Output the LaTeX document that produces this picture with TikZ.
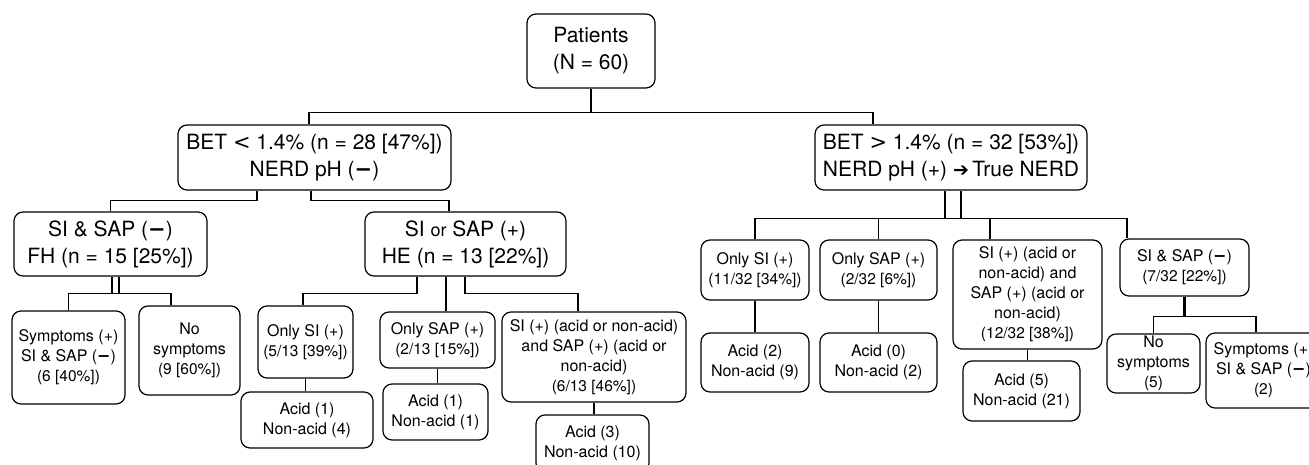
\documentclass[tikz,border=0pt]{standalone}
\usepackage{fontspec}
\setmainfont{TeX Gyre Heros}
\newfontfamily\glyphfont{DejaVu Sans}
\usetikzlibrary{positioning}
\newcommand{\cnt}[1]{{\fontsize{15.5pt}{18pt}\selectfont #1}}
\newcommand{\mns}{{\glyphfont\bfseries −}}
\newcommand{\glyph}[1]{{\glyphfont #1}}

\begin{document}
\begin{tikzpicture}[
  x=1pt,y=-1pt,
  box/.style={draw=black,line width=1.2pt,rounded corners=9pt,align=center,inner sep=2pt},
  bigbox/.style={box,font=\fontsize{21pt}{27pt}\selectfont},
  smallbox/.style={box,font=\fontsize{16pt}{20pt}\selectfont},
  link/.style={draw=black,line width=1.2pt}
]
  \useasboundingbox (0,0) rectangle (1309,465);
  \clip (0,0) rectangle (1309,465);
  \fill[white] (0,0) rectangle (1309,465);

  % Top levels.
  \node[bigbox,minimum width=128pt,minimum height=74pt] (pat) at (591,51) {Patients\\(N = 60)};
  \node[bigbox,minimum width=273pt,minimum height=65pt] (betlo) at (314.5,157.5) {BET \glyph{<} 1.4\% (n = 28 [47\%])\\NERD pH (\mns)};
  \node[bigbox,minimum width=272pt,minimum height=65pt] (bethi) at (951,157.5) {BET \glyph{>} 1.4\% (n = 32 [53\%])\\NERD pH (+) {\glyphfont\fontsize{19pt}{19pt}\selectfont ➔}\,True NERD};
  \node[bigbox,minimum width=193pt,minimum height=64pt] (fh) at (110.5,244) {SI \& SAP (\mns)\\FH (n = 15 [25\%])};
  \node[bigbox,minimum width=201pt,minimum height=64pt] (he) at (465.5,244) {SI {\fontsize{18pt}{20pt}\selectfont or} SAP (+)\\HE (n = 13 [22\%])};

  % Left leaves.
  \node[smallbox,minimum width=113pt,minimum height=93pt] (symL) at (68.5,357.5) {Symptoms (+)\\SI \& SAP (\mns)\\\cnt{(6 [40\%])}};
  \node[smallbox,minimum width=101pt,minimum height=89pt] (nosymL) at (189.5,350.5) {No\\symptoms\\\cnt{(9 [60\%])}};
  \node[smallbox,minimum width=95pt,minimum height=72pt] (onlysiL) at (305.5,342) {Only SI (+)\\\cnt{(5/13 [39\%])}};
  \node[smallbox,minimum width=132pt,minimum height=56pt] (acidA) at (307,420) {Acid (1)\\Non-acid (4)};
  \node[smallbox,minimum width=115pt,minimum height=56pt] (onlysapL) at (437.5,340) {Only SAP (+)\\\cnt{(2/13 [15\%])}};
  \node[smallbox,minimum width=105pt,minimum height=56pt] (acidB) at (435.5,412) {Acid (1)\\Non-acid (1)};
  \node[smallbox,minimum width=184pt,minimum height=90pt] (bothL) at (594,357) {SI (+) (acid or non-acid)\\and SAP (+) (acid or\\non-acid)\\\cnt{(6/13 [46\%])}};
  \node[smallbox,minimum width=113pt,minimum height=57pt] (acidC) at (592.5,443.5) {Acid (3)\\Non-acid (10)};

  % Right leaves.
  \node[smallbox,minimum width=108pt,minimum height=60pt] (onlysiR) at (755,270) {Only SI (+)\\\cnt{(11/32 [34\%])}};
  \node[smallbox,minimum width=108pt,minimum height=59pt] (acidD) at (755,362.5) {Acid (2)\\Non-acid (9)};
  \node[smallbox,minimum width=117pt,minimum height=60pt] (onlysapR) at (878.5,270) {Only SAP (+)\\\cnt{(2/32 [6\%])}};
  \node[smallbox,minimum width=117pt,minimum height=59pt] (acidE) at (878.5,362.5) {Acid (0)\\Non-acid (2)};
  \node[smallbox,minimum width=149pt,minimum height=109pt] (bothR) at (1027.5,294.5) {SI (+) (acid or\\non-acid) and\\SAP (+) (acid or\\non-acid)\\\cnt{(12/32 [38\%])}};
  \node[smallbox,minimum width=117pt,minimum height=60pt] (acidF) at (1021.5,391) {Acid (5)\\Non-acid (21)};
  \node[smallbox,minimum width=129pt,minimum height=57pt] (negR) at (1184.5,267.5) {SI \& SAP (\mns)\\\cnt{(7/32 [22\%])}};
  \node[smallbox,minimum width=93pt,minimum height=57pt] (nosymR) at (1153.5,363.5) {No\\symptoms\\\cnt{(5)}};
  \node[smallbox,minimum width=115pt,minimum height=75pt] (symR) at (1263.5,370.5) {Symptoms (+)\\SI \& SAP (\mns)\\\cnt{(2)}};

  % Root split.
  \draw[link] (pat.south) -- ++(0,24) coordinate (j0);
  \draw[link] ([xshift=-5.5pt]betlo.north) |- (j0) -| ([xshift=-78pt]bethi.north);

  % BET < 1.4% split.
  \draw[link] ([xshift=-57.5pt]betlo.south) -- ++(0,10) -| (fh.north);
  \draw[link] ([xshift=-3.5pt]betlo.south) -- ++(0,10) -| ([xshift=-16.5pt]he.north);

  % FH split, double stem.
  \draw[link] ([xshift=1.5pt]fh.south) -- ++(0,17);
  \draw[link] ([xshift=8.5pt]fh.south) -- ++(0,17) coordinate (j1);
  \draw[link] (symL.north) |- (j1) -| ([xshift=-18.5pt]nosymL.north);

  % HE split.
  \draw[link] ([xshift=-48.5pt]he.south) -- ++(0,17) -| ([xshift=-2.5pt]onlysiL.north);
  \draw[link] ([xshift=-19.5pt]he.south) -- ([xshift=-19.5pt]he.south |- onlysapL.north);
  \draw[link] ([xshift=-0.5pt]he.south) -- ++(0,17) -| ([xshift=-16pt]bothL.north);

  % BET > 1.4% split, double stem.
  \draw[link] ([xshift=-6pt]bethi.south) -- ++(0,28);
  \draw[link,line width=1.8pt] ([xshift=10pt]bethi.south) -- ++(0,28) coordinate (j2);
  \draw[link] (onlysiR.north) |- (j2) -| ([xshift=-57.5pt]negR.north);
  \draw[link] (onlysapR.north) -- (onlysapR.north |- j2);
  \draw[link] ([xshift=-37.5pt]bothR.north) -- ([xshift=-37.5pt]bothR.north |- j2);

  % SI & SAP (-) split.
  \draw[link,line width=2.6pt] (negR.south) -- ++(0,20) coordinate (j3);
  \draw[link] (nosymR.north) |- (j3) -| ([xshift=-7.5pt]symR.north);

  % Counts to acid / non-acid.
  \foreach \up/\down in {onlysiL/acidA,onlysapL/acidB,bothL/acidC,onlysiR/acidD,onlysapR/acidE,bothR/acidF} {
    \draw[link] (\up.south) -- (\up.south |- \down.north);
  }
\end{tikzpicture}
\end{document}
